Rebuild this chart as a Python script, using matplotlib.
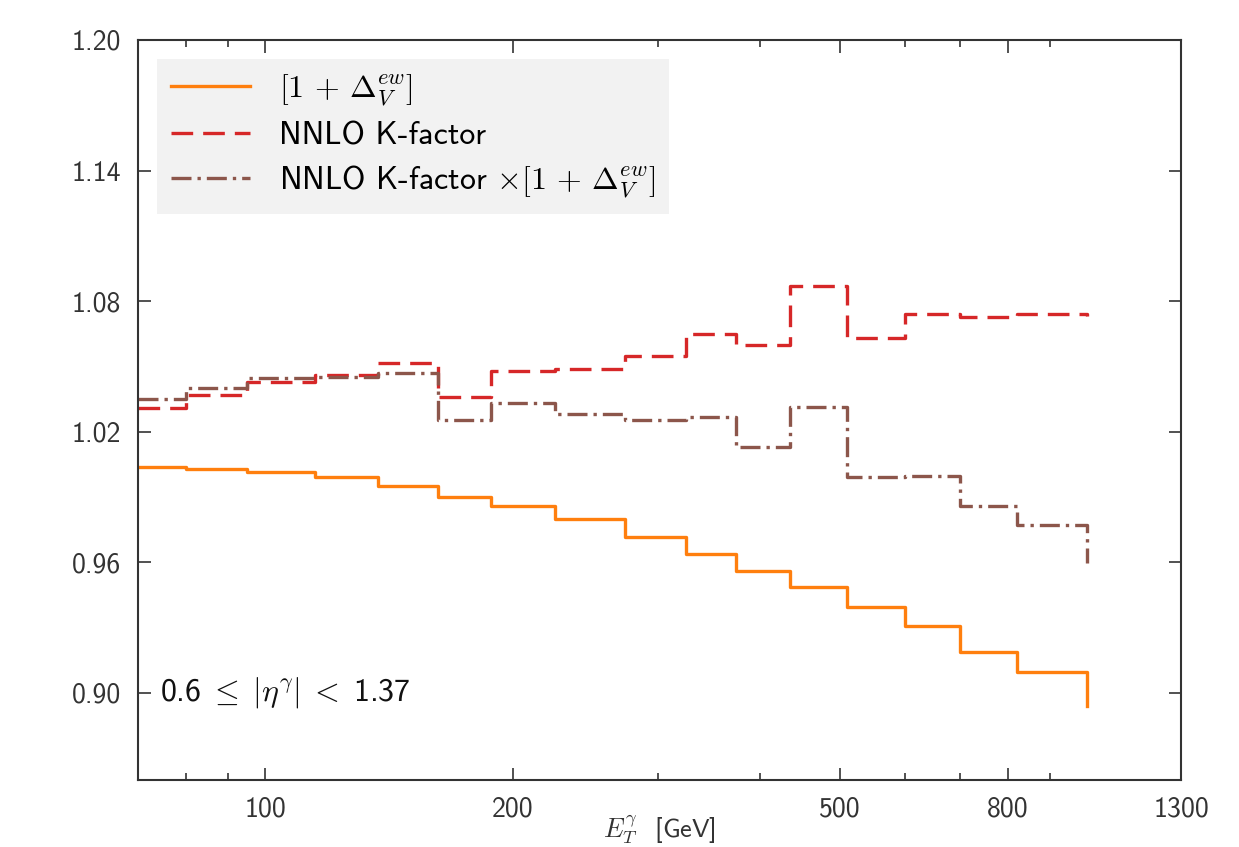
import numpy as np
import matplotlib
matplotlib.use("Agg")
import matplotlib.pyplot as plt

plt.rcParams['font.family'] = ['cmss10', 'DejaVu Sans']
plt.rcParams['mathtext.fontset'] = 'cm'
plt.rcParams['axes.unicode_minus'] = False

# bin edges in E_T (GeV)
edges = [70, 80, 95, 115, 137, 162, 188, 225, 274, 325, 374, 435, 510, 600, 700, 820, 1000]

# one value per bin + a trailing value at the last edge
ew_corr = [1.0039, 1.0029, 1.0016, 0.9991, 0.9951, 0.9899, 0.9860, 0.9798, 0.9718,
           0.9638, 0.9558, 0.9485, 0.9396, 0.9307, 0.9186, 0.9097, 0.8941]
k_factor = [1.0308, 1.0369, 1.0430, 1.0461, 1.0517, 1.0358, 1.0479, 1.0487, 1.0548,
            1.0649, 1.0599, 1.0870, 1.0631, 1.0740, 1.0729, 1.0740, 1.0731]
k_times_ew = [1.0349, 1.0400, 1.0446, 1.0453, 1.0468, 1.0254, 1.0331, 1.0280, 1.0254,
              1.0266, 1.0131, 1.0315, 0.9991, 0.9997, 0.9859, 0.9770, 0.9595]

labels = [r'$[1\,+\,\Delta_V^{ew}]$', 'NNLO K-factor',
          r'NNLO K-factor $\times[1\,+\,\Delta_V^{ew}]$']

x_major = [100, 200, 500, 800, 1300]
x_minor = [80, 90, 300, 400, 600, 700, 900]
y_ticks = [0.90, 0.96, 1.02, 1.08, 1.14, 1.20]

fig = plt.figure(figsize=(12.39, 8.47), dpi=100)
ax = fig.add_axes([0.1114, 0.0791, 0.8418, 0.8737])

ax.step(edges, ew_corr, where='post', color='#ff7f0e', lw=2.4, label=labels[0])
ax.step(edges, k_factor, where='post', color='#d62728', lw=2.4,
        linestyle=(0, (6.5, 3.0)), label=labels[1])
ax.step(edges, k_times_ew, where='post', color='#8c564b', lw=2.4,
        linestyle=(0, (6, 1.8, 1, 1.8)), label=labels[2])

ax.set_xscale('log')
ax.set_xlim(70, 1300)
ax.set_ylim(0.86, 1.20)
ax.set_xticks(x_major)
ax.set_xticks(x_minor, minor=True)
ax.set_xticklabels([str(v) for v in x_major])
ax.xaxis.set_minor_formatter(matplotlib.ticker.NullFormatter())
ax.set_yticks(y_ticks)
ax.set_yticklabels(['%.2f' % v for v in y_ticks])

ax.tick_params(which='both', direction='in', top=True, right=True,
               colors='#333333', labelcolor='#333333', labelsize=20)
ax.tick_params(which='major', length=9, width=1.2, pad=12)
ax.tick_params(which='minor', length=5, width=1.2)
for s in ax.spines.values():
    s.set_color('#333333')
    s.set_linewidth(1.5)

ax.set_xlabel(r'$E_T^\gamma$  [GeV]', fontsize=19, color='#333333', labelpad=-7)

ax.text(0.021, 0.118, r'0.6$\;\leq\;|\eta^\gamma|\;<\;$1.37', transform=ax.transAxes,
        fontsize=23, color='#111111', va='center', ha='left')

leg = ax.legend(loc='upper left', fontsize=23, frameon=True, fancybox=False,
                handlelength=2.5, handletextpad=0.9, labelspacing=0.42,
                borderaxespad=0.6, borderpad=0.42)
leg.get_frame().set_facecolor('#f2f2f2')
leg.get_frame().set_edgecolor('none')
leg.get_frame().set_alpha(1)

fig.savefig('out.png', dpi=100, facecolor='white')
